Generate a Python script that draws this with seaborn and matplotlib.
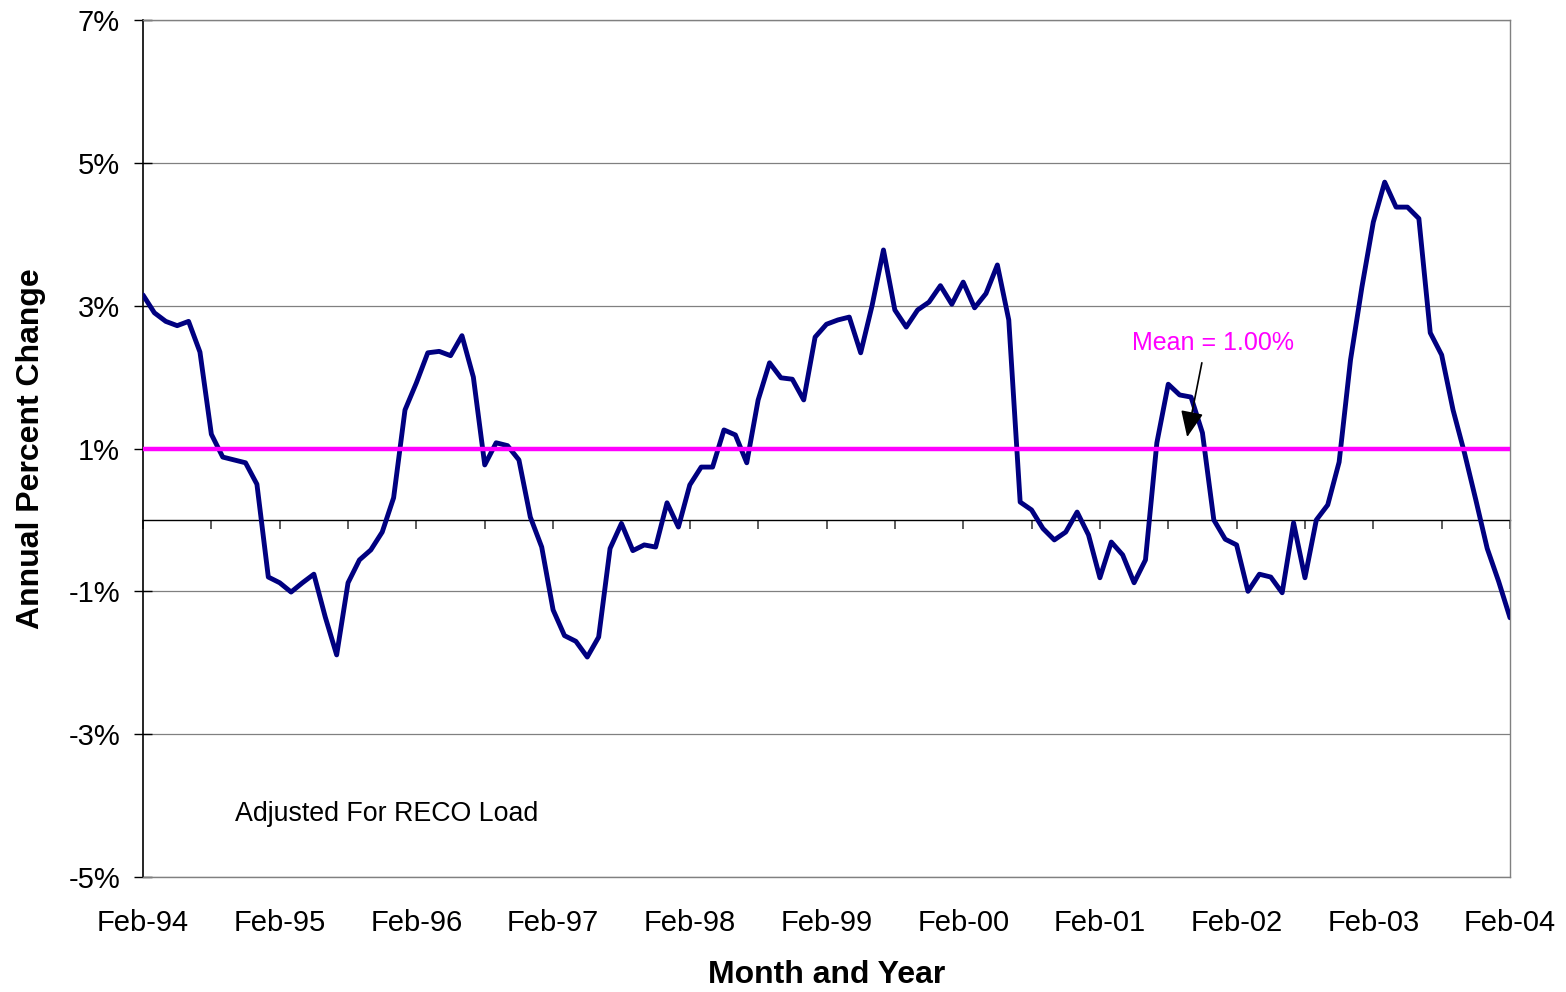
import numpy as np
import pandas as pd
import matplotlib
matplotlib.use("Agg")
import matplotlib.pyplot as plt
import seaborn as sns

# Year labels for the February of each year
tick_labels = ["Feb-94", "Feb-95", "Feb-96", "Feb-97", "Feb-98", "Feb-99",
               "Feb-00", "Feb-01", "Feb-02", "Feb-03", "Feb-04"]

# Monthly annual percent change, Feb-94 through Feb-04
pct_change = [
    3.15, 2.90, 2.78, 2.72, 2.78, 2.35, 1.20, 0.88, 0.84, 0.80, 0.50, -0.80,
    -0.88, -1.01, -0.88, -0.76, -1.36, -1.89, -0.88, -0.56, -0.42, -0.17, 0.31, 1.54,
    1.92, 2.34, 2.36, 2.30, 2.58, 2.00, 0.77, 1.08, 1.04, 0.84, 0.04, -0.38,
    -1.26, -1.62, -1.70, -1.92, -1.64, -0.40, -0.05, -0.43, -0.35, -0.38, 0.24, -0.10,
    0.49, 0.74, 0.74, 1.26, 1.19, 0.80, 1.68, 2.20, 1.99, 1.97, 1.68, 2.56,
    2.74, 2.80, 2.84, 2.34, 3.00, 3.78, 2.94, 2.70, 2.94, 3.05, 3.28, 3.02,
    3.33, 2.97, 3.17, 3.57, 2.80, 0.25, 0.14, -0.12, -0.28, -0.17, 0.11, -0.21,
    -0.81, -0.31, -0.49, -0.88, -0.56, 1.08, 1.90, 1.75, 1.72, 1.22, 0.00, -0.27,
    -0.35, -1.00, -0.76, -0.80, -1.02, -0.04, -0.81, 0.00, 0.21, 0.81, 2.24, 3.26,
    4.17, 4.73, 4.38, 4.38, 4.22, 2.62, 2.31, 1.54, 0.94, 0.28, -0.40, -0.86,
    -1.37,
]

mean_value = 1.00
y_ticks = [7, 5, 3, 1, -1, -3, -5]

sns.set_theme(style="white")
plt.rcParams["font.family"] = ["Liberation Sans", "DejaVu Sans"]
plt.rcParams.update({"text.color": "black", "axes.labelcolor": "black",
                     "xtick.color": "black", "ytick.color": "black"})

W, H = 1566, 992
fig = plt.figure(figsize=(W / 100, H / 100), dpi=100)
ax = fig.add_axes([143 / W, 1 - 877 / H, 1367 / W, 857 / H])

df = pd.DataFrame({"month": np.arange(len(pct_change)), "pct": pct_change})
sns.lineplot(data=df, x="month", y="pct", ax=ax, color="#000080", lw=3.5,
             zorder=3, solid_joinstyle="round", solid_capstyle="round")

# Mean reference line
ax.axhline(mean_value, color="#FF00FF", lw=3.2, zorder=4)

ymin, ymax = min(y_ticks), max(y_ticks)
ax.set_ylim(ymin, ymax)
ax.set_xlim(0, len(pct_change) - 1)

ax.set_yticks(y_ticks)
ax.set_yticklabels([f"{v}%" for v in y_ticks])
ax.set_xticks(np.arange(0, len(pct_change), 12))
ax.set_xticklabels(tick_labels)

ax.grid(axis="y", color="#808080", lw=0.9)
ax.grid(axis="x", visible=False)

ax.tick_params(axis="x", length=0, pad=23, labelsize=21, colors="black")
ax.tick_params(axis="y", direction="inout", length=13, width=1.0, pad=10,
               labelsize=21, color="black", left=True)

for side in ["top", "right", "bottom"]:
    ax.spines[side].set_color("#808080")
    ax.spines[side].set_linewidth(1.0)
ax.spines["left"].set_color("black")
ax.spines["left"].set_linewidth(1.2)

# Horizontal axis line at zero with half-year tick marks
zero_pos = (0 - ymin) / (ymax - ymin)
sec = ax.secondary_xaxis(zero_pos)
sec.set_xticks(np.arange(0, len(pct_change), 6))
sec.set_xticklabels([])
sec.xaxis.set_ticks_position("bottom")
sec.tick_params(axis="x", direction="out", length=6.5, width=1.1, color="#303030")
for s in sec.spines.values():
    s.set_color("black")
    s.set_linewidth(1.0)

ax.set_xlabel("Month and Year", fontsize=23, fontweight="bold")
ax.xaxis.set_label_coords(0.5, -0.097)
ax.set_ylabel("Annual Percent Change", fontsize=23, fontweight="bold")
ax.yaxis.set_label_coords(-0.071, 0.5)

ax.text(0.0673, 0.0653, "Adjusted For RECO Load", transform=ax.transAxes,
        fontsize=19.3, va="baseline", ha="left")

ax.text(86.8, 2.38, f"Mean = {mean_value:.2f}%", color="#FF00FF", fontsize=18,
        va="baseline", ha="left", zorder=5)
ax.annotate("", xy=(91.66, 1.16), xytext=(92.95, 2.20),
            arrowprops=dict(arrowstyle="-|>,head_length=1.6,head_width=0.7",
                            color="black", lw=1.2, shrinkA=0, shrinkB=0,
                            mutation_scale=10),
            zorder=6)

fig.savefig("out.png", dpi=100, facecolor="white")
